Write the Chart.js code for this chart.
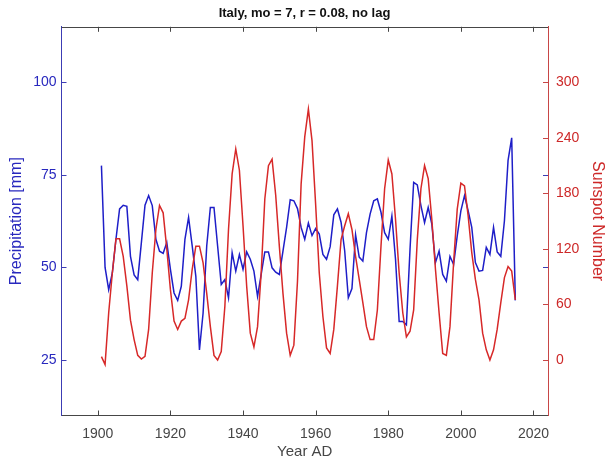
<!DOCTYPE html>
<html>
<head>
<meta charset="utf-8">
<script src="https://cdn.jsdelivr.net/npm/chart.js@4.4.1/dist/chart.umd.min.js"></script>
<style>
  html, body { margin: 0; padding: 0; background: #ffffff; }
  #wrap { width: 609px; height: 464px; }
</style>
</head>
<body>
<div id="wrap"><canvas id="c" width="609" height="464"></canvas></div>
<script>
const TITLE = 'Italy, mo = 7, r = 0.08, no lag';
const X_TICKS = [1900, 1920, 1940, 1960, 1980, 2000, 2020];
const PRECIP_TICKS = [25, 50, 75, 100];
const SUNSPOT_TICKS = [0, 60, 120, 180, 240, 300];

const years = [];
for (let y = 1901; y <= 2015; y++) years.push(y);

const precipitation = [
  77.5, 50, 44, 48.5, 57.6, 65.8, 66.8, 66.5, 53, 48,
  46.7, 56.7, 66.8, 69.4, 66.7, 57.6, 54.4, 53.8, 56.7, 49.5,
  43.1, 41.1, 44.9, 57.6, 63.5, 55.8, 47.6, 27.7, 37.7, 55.8,
  66.2, 66.2, 55.8, 45.4, 46.7, 41.8, 54, 49, 53.5, 49.5,
  54.2, 52.2, 49, 42.2, 48.1, 54.2, 54.2, 49.9, 48.7, 48.1,
  54.4, 60.8, 68.3, 68, 65.9, 60.8, 57.6, 62, 58.6, 60.5,
  59, 53.5, 52.2, 55.6, 64.2, 65.8, 62.2, 54.5, 41.8, 44.3,
  58.8, 52.8, 51.7, 59.4, 64.4, 68, 68.5, 64.9, 59.4, 57.6,
  63.9, 52.2, 35.4, 35.4, 34.5, 55, 73, 72.3, 66.7, 62.1,
  66.2, 61.7, 51.3, 54.4, 48.1, 46.3, 53, 50.8, 58.5, 65.3,
  69.4, 65.3, 60.8, 51.3, 49, 49.2, 55.4, 53.5, 60.8, 54.2,
  53, 62.6, 78.9, 85, 41.1
];

const sunspots = [
  3.6, -5, 51, 94, 131, 131, 112, 80, 43, 22,
  5, 1, 4, 33, 94, 141, 167, 159, 120, 76,
  42, 33, 42, 45, 65, 98, 123, 123, 105, 72,
  36, 5, 0, 9, 58, 141, 201, 228, 205, 145,
  80, 29, 14, 36, 94, 174, 210, 217, 178, 123,
  72, 29, 5, 16, 85, 190, 241, 271, 237, 168,
  94, 47, 13, 7, 33, 80, 130, 145, 158, 141,
  112, 87, 62, 36, 22, 22, 54, 123, 185, 216,
  201, 152, 94, 51, 25, 31, 54, 130, 185, 210,
  196, 152, 98, 51, 7, 5, 36, 105, 163, 191,
  188, 156, 116, 87, 65, 29, 11, 0, 11, 33,
  62, 89, 101, 96, 65
];

const FONT = '"Liberation Sans", Arial, Helvetica, sans-serif';
const BLUE = 'rgb(30,30,200)';
const BLUE_TXT = 'rgb(40,40,190)';
const RED = 'rgb(215,40,40)';
const RED_TXT = 'rgb(205,40,40)';
const GRAY = 'rgb(70,70,70)';

const inTicks = {
  id: 'inTicks',
  afterDraw(chart) {
    const ctx = chart.ctx;
    const { left, right, top, bottom } = chart.chartArea;
    const sx = chart.scales.x, sl = chart.scales.y, sr = chart.scales.y1;
    const L = 5;
    ctx.save();
    ctx.lineWidth = 1;
    ctx.strokeStyle = GRAY;
    ctx.beginPath();
    ctx.moveTo(left, Math.round(top) + 0.5);
    ctx.lineTo(right, Math.round(top) + 0.5);
    ctx.stroke();
    ctx.beginPath();
    sx.ticks.forEach(t => {
      const px = Math.round(sx.getPixelForValue(t.value)) + 0.5;
      ctx.moveTo(px, bottom); ctx.lineTo(px, bottom - L);
      ctx.moveTo(px, top); ctx.lineTo(px, top + L);
    });
    ctx.stroke();
    ctx.strokeStyle = 'rgb(60,60,180)';
    ctx.beginPath();
    sl.ticks.forEach(t => {
      const py = Math.round(sl.getPixelForValue(t.value)) + 0.5;
      ctx.moveTo(left, py); ctx.lineTo(left + L, py);
      ctx.moveTo(right, py); ctx.lineTo(right - L, py);
    });
    ctx.stroke();
    ctx.strokeStyle = 'rgb(200,70,70)';
    ctx.beginPath();
    sr.ticks.forEach(t => {
      const py = Math.round(sr.getPixelForValue(t.value)) + 0.5;
      ctx.moveTo(right, py); ctx.lineTo(right - L, py);
    });
    ctx.stroke();
    ctx.restore();
  }
};

new Chart(document.getElementById('c'), {
  type: 'line',
  data: {
    datasets: [
      {
        label: 'Precipitation [mm]',
        data: years.map((y, i) => ({ x: y, y: precipitation[i] })),
        yAxisID: 'y',
        borderColor: BLUE,
        borderWidth: 1.5,
        pointRadius: 0,
        tension: 0,
        fill: false,
        order: 2
      },
      {
        label: 'Sunspot Number',
        data: years.map((y, i) => ({ x: y, y: sunspots[i] })),
        yAxisID: 'y1',
        borderColor: RED,
        borderWidth: 1.5,
        pointRadius: 0,
        tension: 0,
        fill: false,
        order: 1
      }
    ]
  },
  options: {
    responsive: false,
    animation: false,
    devicePixelRatio: 1,
    layout: { padding: 0 },
    plugins: {
      legend: { display: false },
      tooltip: { enabled: false },
      title: {
        display: true,
        text: TITLE,
        color: '#111',
        font: { family: FONT, size: 13, weight: 'bold' },
        padding: { top: 6, bottom: 5.2 }
      }
    },
    scales: {
      x: {
        type: 'linear',
        min: 1890,
        max: 2024,
        afterBuildTicks: s => { s.ticks = X_TICKS.map(v => ({ value: v })); },
        afterFit: s => { s.height = 48.5; },
        grid: { display: false, drawTicks: false },
        border: { display: true, color: GRAY, width: 1 },
        ticks: { color: GRAY, font: { family: FONT, size: 14 }, padding: 10, maxRotation: 0, autoSkip: false,
                 callback: v => String(v) },
        title: { display: true, text: 'Year AD', color: GRAY, font: { family: FONT, size: 15 }, padding: { top: 0, bottom: 3 } }
      },
      y: {
        type: 'linear',
        position: 'left',
        min: 10,
        max: 115,
        afterBuildTicks: s => { s.ticks = PRECIP_TICKS.map(v => ({ value: v })); },
        afterFit: s => { s.width = 61.5; },
        grid: { display: false, drawTicks: false },
        border: { display: true, color: 'rgb(60,60,180)', width: 1 },
        ticks: { color: BLUE_TXT, font: { family: FONT, size: 14 }, padding: 5, callback: v => String(v) },
        title: { display: true, text: 'Precipitation [mm]', color: BLUE_TXT, font: { family: FONT, size: 16 }, padding: { top: 7, bottom: 0 } }
      },
      y1: {
        type: 'linear',
        position: 'right',
        min: -60,
        max: 360,
        afterBuildTicks: s => { s.ticks = SUNSPOT_TICKS.map(v => ({ value: v })); },
        afterFit: s => { s.width = 61; },
        grid: { display: false, drawTicks: false },
        border: { display: true, color: 'rgb(200,70,70)', width: 1 },
        ticks: { color: RED_TXT, font: { family: FONT, size: 14 }, padding: 8, callback: v => String(v) },
        title: { display: true, text: 'Sunspot Number', color: RED_TXT, font: { family: FONT, size: 16 }, padding: { top: 2, bottom: 0 } }
      }
    }
  },
  plugins: [inTicks]
});
</script>
</body>
</html>
